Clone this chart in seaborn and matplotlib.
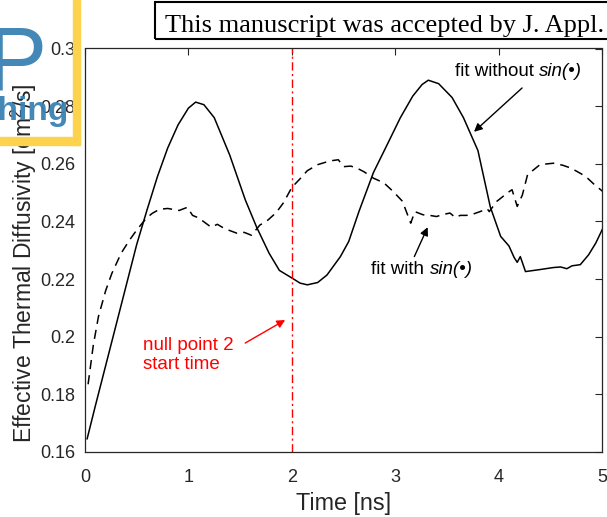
import numpy as np
import pandas as pd
import matplotlib
matplotlib.use('Agg')
import matplotlib.pyplot as plt
import seaborn as sns
from matplotlib.patches import Rectangle

# ---------------- data ----------------
time_solid = [0.02, 0.1, 0.2, 0.3, 0.4, 0.5, 0.6, 0.7, 0.8, 0.9, 1.0, 1.07, 1.15,
              1.25, 1.4, 1.55, 1.66, 1.78, 1.88, 2.0, 2.08, 2.15, 2.25, 2.34, 2.47,
              2.55, 2.65, 2.79, 2.9, 3.05, 3.17, 3.26, 3.32, 3.42, 3.55, 3.66, 3.8,
              3.92, 4.02, 4.1, 4.15, 4.18, 4.21, 4.26, 4.4, 4.53, 4.6, 4.66, 4.71,
              4.79, 4.87, 4.94, 5.02]
diff_solid = [0.1645, 0.176, 0.190, 0.204, 0.218, 0.232, 0.244, 0.2555, 0.2655,
              0.2735, 0.2793, 0.2814, 0.2805, 0.2760, 0.2630, 0.2475, 0.2380,
              0.2290, 0.2230, 0.2204, 0.2186, 0.2180, 0.2188, 0.2214, 0.2278,
              0.2330, 0.2435, 0.2570, 0.2650, 0.2760, 0.2835, 0.2875, 0.2890,
              0.2878, 0.2830, 0.2760, 0.2646, 0.2450, 0.2348, 0.2315, 0.2275,
              0.2258, 0.2278, 0.2226, 0.2233, 0.2240, 0.2242, 0.2236, 0.2246,
              0.2250, 0.2284, 0.2325, 0.2385]

time_dashed = [0.03, 0.08, 0.13, 0.2, 0.26, 0.35, 0.43, 0.5, 0.59, 0.65, 0.72, 0.8,
               0.91, 0.99, 1.04, 1.1, 1.22, 1.28, 1.35, 1.47, 1.54, 1.61, 1.69, 1.77,
               1.85, 1.92, 2.0, 2.08, 2.15, 2.25, 2.37, 2.45, 2.5, 2.57, 2.63, 2.7,
               2.79, 2.89, 2.98, 3.07, 3.15, 3.19, 3.27, 3.35, 3.4, 3.46, 3.53, 3.58,
               3.63, 3.69, 3.75, 3.82, 3.89, 3.91, 3.98, 4.03, 4.08, 4.13, 4.18,
               4.23, 4.28, 4.4, 4.53, 4.62, 4.7, 4.8, 4.86, 4.92, 5.02]
diff_dashed = [0.1835, 0.197, 0.207, 0.216, 0.222, 0.229, 0.2335, 0.237, 0.241,
               0.2428, 0.2442, 0.2445, 0.2438, 0.2449, 0.2421, 0.2412, 0.2380,
               0.2390, 0.2375, 0.2359, 0.2362, 0.2352, 0.2387, 0.2405, 0.2431,
               0.2465, 0.2518, 0.2548, 0.2576, 0.2597, 0.2610, 0.2614, 0.2590,
               0.2592, 0.2585, 0.2572, 0.2550, 0.2534, 0.2504, 0.2470, 0.2394,
               0.2434, 0.2423, 0.2420, 0.2417, 0.2424, 0.2429, 0.2414, 0.2421,
               0.2421, 0.2425, 0.2434, 0.2444, 0.2434, 0.2469, 0.2483, 0.2498,
               0.2510, 0.2452, 0.2492, 0.2562, 0.2597, 0.2602, 0.2595, 0.2585,
               0.2565, 0.2550, 0.2530, 0.2500]

null_point_time = 2.0
xticks = [0, 1, 2, 3, 4, 5]
xtick_labels = ['0', '1', '2', '3', '4', '5']
yticks = [0.16, 0.18, 0.20, 0.22, 0.24, 0.26, 0.28, 0.30]
ytick_labels = ['0.16', '0.18', '0.2', '0.22', '0.24', '0.26', '0.28', '0.3']

# ---------------- style ----------------
sns.set_theme(style='white')
plt.rcParams['font.family'] = ['Liberation Sans', 'DejaVu Sans']
plt.rcParams['mathtext.fontset'] = 'custom'
plt.rcParams['mathtext.rm'] = 'Liberation Sans'
plt.rcParams['mathtext.it'] = 'Liberation Sans:italic'
plt.rcParams['mathtext.bf'] = 'Liberation Sans:bold'

W, H = 607, 517
fig = plt.figure(figsize=(W / 100, H / 100), dpi=100)
fig.patch.set_facecolor('white')
ax = fig.add_axes([85 / W, 1 - 452 / H, (602 - 85) / W, (452 - 48.5) / H])
ax.set_facecolor('white')

df_s = pd.DataFrame({'time': time_solid, 'diff': diff_solid})
df_d = pd.DataFrame({'time': time_dashed, 'diff': diff_dashed})

sns.lineplot(data=df_s, x='time', y='diff', ax=ax, color='black', lw=1.1,
             estimator=None, sort=False)
sns.lineplot(data=df_d, x='time', y='diff', ax=ax, color='black', lw=1.1,
             estimator=None, sort=False)
ax.lines[-1].set_dashes([6, 4])

ax.axvline(null_point_time, color='red', lw=1.0, dashes=[6, 2.5, 1.5, 2.5])

ax.set_xlim(0, 5)
ax.set_ylim(0.16, 0.30)
ax.set_xticks(xticks)
ax.set_xticklabels(xtick_labels)
ax.set_yticks(yticks)
ax.set_yticklabels(ytick_labels)

tc = '#262626'
ax.tick_params(direction='in', length=5, width=0.8, top=True, right=True,
               labelsize=13, colors=tc, labelcolor=tc)
ax.tick_params(axis='x', pad=12)
ax.tick_params(axis='y', pad=7)
for s in ax.spines.values():
    s.set_color(tc)
    s.set_linewidth(0.9)
    s.set_visible(True)

ax.set_xlabel('Time [ns]', fontsize=16.8, color=tc)
ax.set_ylabel(r'Effective Thermal Diffusivity [cm$^2$/s]', fontsize=16.5, color=tc)
ax.xaxis.set_label_coords(0.5, -0.10)
ax.yaxis.set_label_coords(-0.089, 0.468)

# ---------------- annotations ----------------
fs_ann = 13.5
arrow_k = dict(arrowstyle='-|>', color='black', lw=1.0, mutation_scale=12,
               shrinkA=0, shrinkB=0)

t1 = ax.text(3.58, 0.292, 'fit without', fontsize=fs_ann, va='center',
             ha='left', color='black')
ax.annotate('sin(•)', xy=(1, 0), xycoords=t1, xytext=(3.75, 0),
            textcoords='offset points', va='bottom', ha='left',
            fontsize=fs_ann, fontstyle='italic', color='black')
ax.annotate('', xy=(3.762, 0.2711), xytext=(4.227, 0.2863), arrowprops=arrow_k)

t2 = ax.text(2.77, 0.2232, 'fit with', fontsize=fs_ann, va='center',
             ha='left', color='black')
ax.annotate('sin(•)', xy=(1, 0), xycoords=t2, xytext=(3.75, 0),
            textcoords='offset points', va='bottom', ha='left',
            fontsize=fs_ann, fontstyle='italic', color='black')
ax.annotate('', xy=(3.314, 0.2380), xytext=(3.185, 0.2278), arrowprops=arrow_k)

ax.text(0.561, 0.1937, 'null point 2\nstart time', fontsize=fs_ann, color='red',
        va='center', ha='left')
arrow_r = dict(arrow_k)
arrow_r['color'] = 'red'
ax.annotate('', xy=(1.936, 0.2058), xytext=(1.549, 0.1978), arrowprops=arrow_r)

# ---------------- header box ----------------
fig.add_artist(Rectangle((155 / W, 1 - 39 / H), (700 - 155) / W, 37 / H,
                         fill=False, ec='black', lw=1.5,
                         transform=fig.transFigure, zorder=5))
fig.text(165 / W, 1 - 32 / H, 'This manuscript was accepted by J. Appl.',
         family=['Liberation Serif', 'DejaVu Serif'], fontsize=19,
         va='baseline', ha='left', color='black', zorder=6)

# ---------------- publisher logo (watermark corner) ----------------
yellow = '#fdd34e'
blue = '#3a82b4'
fig.add_artist(Rectangle((73 / W, 1 - 145 / H), 7 / W, 145 / H, color=yellow,
                         transform=fig.transFigure, zorder=7))
fig.add_artist(Rectangle((0, 1 - 145 / H), 80 / W, 8 / H, color=yellow,
                         transform=fig.transFigure, zorder=7))
fig.text(47 / W, 1 - 90 / H, 'P', fontsize=65, color=blue, ha='right',
         va='baseline', zorder=8, alpha=0.95)
fig.text(69 / W, 1 - 120 / H, 'Publishing', fontsize=24, fontweight='bold',
         color=blue, ha='right', va='baseline', zorder=8, alpha=0.95)

fig.savefig('out.png', dpi=100)
